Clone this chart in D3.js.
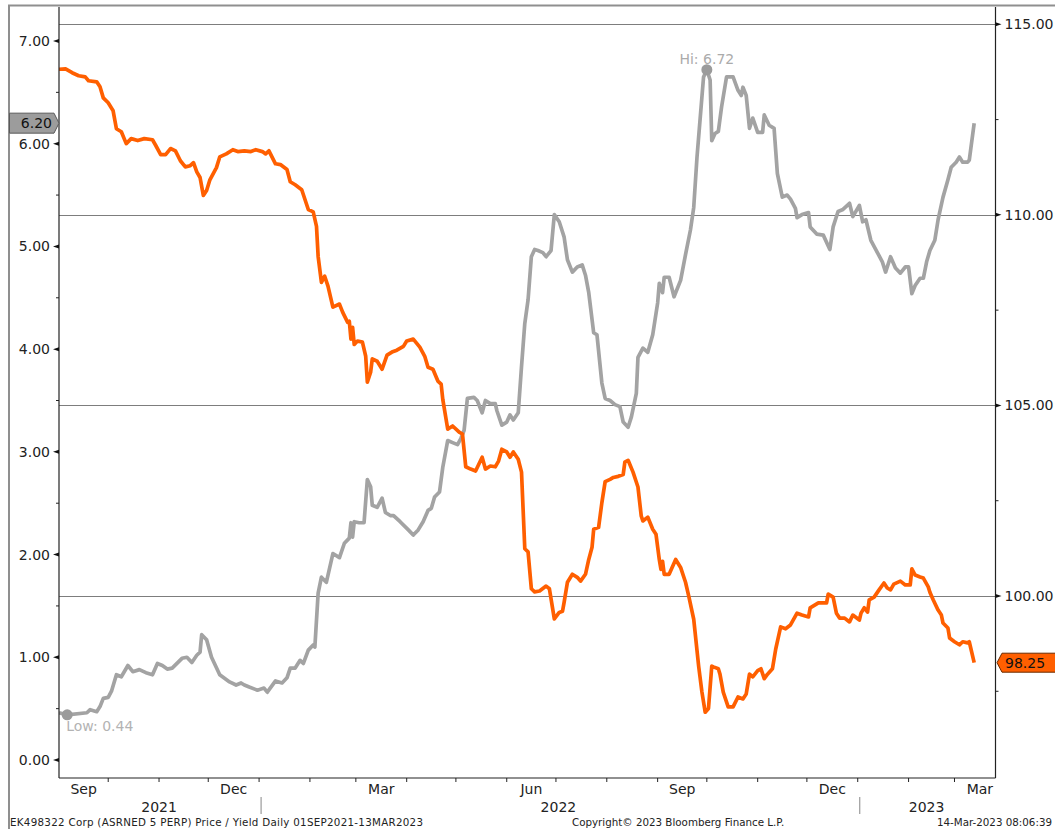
<!DOCTYPE html>
<html>
<head>
<meta charset="utf-8">
<script src="https://cdn.jsdelivr.net/npm/d3@7"></script>
<style>
  body { margin: 0; background: #fff; }
  text { font-family: "DejaVu Sans", Verdana, sans-serif; }
</style>
</head>
<body>
<svg id="chart" width="1055" height="829"></svg>
<script>
// Price (right axis, orange)
const priceData = [
  ["2021-09-01",113.82],["2021-09-05",113.83],["2021-09-09",113.73],["2021-09-13",113.65],["2021-09-17",113.62],
  ["2021-09-19",113.52],["2021-09-24",113.49],["2021-09-26",113.36],["2021-09-28",113.07],["2021-10-01",112.94],
  ["2021-10-04",112.73],["2021-10-06",112.26],["2021-10-09",112.18],["2021-10-12",111.87],["2021-10-15",112.00],
  ["2021-10-19",111.95],["2021-10-23",112.00],["2021-10-28",111.97],["2021-10-30",111.82],["2021-11-02",111.58],
  ["2021-11-05",111.58],["2021-11-08",111.74],["2021-11-11",111.68],["2021-11-14",111.42],["2021-11-17",111.26],
  ["2021-11-20",111.29],["2021-11-22",111.37],["2021-11-24",111.13],["2021-11-26",110.98],["2021-11-28",110.51],
  ["2021-11-30",110.64],["2021-12-02",110.92],["2021-12-06",111.24],["2021-12-08",111.52],["2021-12-12",111.60],
  ["2021-12-16",111.71],["2021-12-19",111.66],["2021-12-23",111.68],["2021-12-27",111.66],["2021-12-30",111.71],
  ["2022-01-03",111.66],["2022-01-05",111.60],["2022-01-07",111.68],["2022-01-11",111.34],["2022-01-14",111.32],
  ["2022-01-18",111.19],["2022-01-20",110.87],["2022-01-23",110.79],["2022-01-27",110.66],["2022-01-31",110.14],
  ["2022-02-03",110.08],["2022-02-05",109.70],["2022-02-06",108.91],["2022-02-08",108.23],["2022-02-10",108.39],
  ["2022-02-12",108.13],["2022-02-15",107.58],["2022-02-19",107.66],["2022-02-21",107.44],["2022-02-24",107.18],
  ["2022-02-25",107.21],["2022-02-26",106.74],["2022-02-27",107.05],["2022-02-28",106.60],["2022-03-02",106.69],
  ["2022-03-05",106.66],["2022-03-07",106.29],["2022-03-08",105.61],["2022-03-10",105.87],["2022-03-11",106.22],
  ["2022-03-14",106.16],["2022-03-17",105.95],["2022-03-20",106.32],["2022-03-23",106.40],["2022-03-26",106.45],
  ["2022-03-30",106.55],["2022-04-01",106.69],["2022-04-05",106.74],["2022-04-09",106.53],["2022-04-12",106.29],
  ["2022-04-14",106.00],["2022-04-17",105.95],["2022-04-20",105.64],["2022-04-22",105.56],["2022-04-23",105.16],
  ["2022-04-26",104.38],["2022-04-29",104.46],["2022-05-03",104.30],["2022-05-05",104.25],["2022-05-07",103.39],
  ["2022-05-10",103.33],["2022-05-13",103.28],["2022-05-17",103.64],["2022-05-19",103.33],["2022-05-22",103.41],
  ["2022-05-25",103.39],["2022-05-27",103.54],["2022-05-29",103.85],["2022-06-01",103.78],["2022-06-03",103.64],
  ["2022-06-05",103.78],["2022-06-08",103.59],["2022-06-10",103.25],["2022-06-12",101.24],["2022-06-14",101.16],
  ["2022-06-16",100.19],["2022-06-18",100.11],["2022-06-21",100.13],["2022-06-25",100.26],["2022-06-27",100.19],
  ["2022-06-30",99.40],["2022-07-03",99.57],["2022-07-05",99.60],["2022-07-06",99.84],["2022-07-08",100.36],
  ["2022-07-11",100.57],["2022-07-14",100.49],["2022-07-16",100.39],["2022-07-19",100.57],["2022-07-21",100.96],
  ["2022-07-23",101.28],["2022-07-24",101.75],["2022-07-27",101.80],["2022-07-29",102.45],["2022-07-31",103.00],
  ["2022-08-03",103.06],["2022-08-05",103.11],["2022-08-08",103.14],["2022-08-11",103.19],["2022-08-12",103.51],
  ["2022-08-14",103.56],["2022-08-17",103.25],["2022-08-20",102.86],["2022-08-22",102.10],["2022-08-23",101.97],
  ["2022-08-26",102.07],["2022-08-29",101.75],["2022-08-31",101.62],["2022-09-02",100.96],["2022-09-03",100.70],
  ["2022-09-04",100.91],["2022-09-05",100.57],["2022-09-08",100.57],["2022-09-12",100.96],["2022-09-15",100.75],
  ["2022-09-18",100.36],["2022-09-20",99.99],["2022-09-23",99.39],["2022-09-26",98.16],["2022-09-28",97.48],
  ["2022-09-30",96.95],["2022-10-02",97.05],["2022-10-04",98.16],["2022-10-05",98.14],["2022-10-08",98.09],
  ["2022-10-09",97.95],["2022-10-11",97.48],["2022-10-14",97.09],["2022-10-17",97.09],["2022-10-20",97.35],
  ["2022-10-23",97.30],["2022-10-25",97.43],["2022-10-27",97.95],["2022-10-29",97.88],["2022-11-01",98.04],
  ["2022-11-03",98.09],["2022-11-05",97.83],["2022-11-07",97.95],["2022-11-10",98.09],["2022-11-12",98.61],
  ["2022-11-15",99.19],["2022-11-18",99.14],["2022-11-21",99.24],["2022-11-25",99.55],["2022-11-28",99.50],
  ["2022-12-02",99.45],["2022-12-03",99.69],["2022-12-08",99.82],["2022-12-11",99.82],["2022-12-13",99.82],
  ["2022-12-14",100.05],["2022-12-17",99.97],["2022-12-19",99.55],["2022-12-21",99.42],["2022-12-24",99.42],
  ["2022-12-27",99.32],["2022-12-29",99.50],["2023-01-02",99.37],["2023-01-03",99.55],["2023-01-05",99.69],
  ["2023-01-07",99.58],["2023-01-08",99.90],["2023-01-11",99.97],["2023-01-14",100.16],["2023-01-17",100.34],
  ["2023-01-19",100.21],["2023-01-21",100.16],["2023-01-23",100.31],["2023-01-27",100.39],["2023-01-30",100.29],
  ["2023-02-02",100.29],["2023-02-03",100.71],["2023-02-05",100.55],["2023-02-08",100.50],["2023-02-10",100.47],
  ["2023-02-13",100.24],["2023-02-14",100.10],["2023-02-16",99.90],["2023-02-19",99.63],["2023-02-21",99.50],
  ["2023-02-22",99.29],["2023-02-25",99.16],["2023-02-26",98.90],["2023-03-01",98.80],["2023-03-04",98.72],
  ["2023-03-06",98.80],["2023-03-09",98.77],["2023-03-10",98.80],["2023-03-13",98.25]
];

// Yield (left axis, grey)
const yieldData = [
  ["2021-09-01",0.46],["2021-09-06",0.44],["2021-09-18",0.46],["2021-09-20",0.49],["2021-09-24",0.47],
  ["2021-09-26",0.52],["2021-09-28",0.60],["2021-10-01",0.61],["2021-10-03",0.67],["2021-10-06",0.83],
  ["2021-10-09",0.81],["2021-10-13",0.92],["2021-10-16",0.86],["2021-10-20",0.88],["2021-10-24",0.85],
  ["2021-10-28",0.83],["2021-10-31",0.94],["2021-11-03",0.92],["2021-11-06",0.885],["2021-11-09",0.895],
  ["2021-11-15",0.99],["2021-11-18",1.00],["2021-11-21",0.95],["2021-11-24",1.02],["2021-11-26",1.05],
  ["2021-11-27",1.22],["2021-11-30",1.17],["2021-12-03",1.00],["2021-12-08",0.83],["2021-12-14",0.76],
  ["2021-12-18",0.73],["2021-12-21",0.75],["2021-12-23",0.73],["2021-12-26",0.71],["2021-12-31",0.68],
  ["2022-01-04",0.70],["2022-01-06",0.66],["2022-01-11",0.77],["2022-01-15",0.75],["2022-01-18",0.80],
  ["2022-01-20",0.895],["2022-01-23",0.895],["2022-01-26",0.97],["2022-01-28",0.94],["2022-01-31",1.07],
  ["2022-02-03",1.12],["2022-02-04",1.10],["2022-02-06",1.625],["2022-02-08",1.78],["2022-02-11",1.73],
  ["2022-02-15",2.01],["2022-02-19",1.97],["2022-02-22",2.11],["2022-02-25",2.16],["2022-02-26",2.31],
  ["2022-02-27",2.17],["2022-02-28",2.32],["2022-03-03",2.31],["2022-03-06",2.31],["2022-03-08",2.73],
  ["2022-03-10",2.66],["2022-03-11",2.48],["2022-03-14",2.46],["2022-03-17",2.55],["2022-03-19",2.41],
  ["2022-03-22",2.38],["2022-03-24",2.38],["2022-03-28",2.32],["2022-04-02",2.24],["2022-04-05",2.19],
  ["2022-04-08",2.24],["2022-04-11",2.32],["2022-04-14",2.43],["2022-04-16",2.45],["2022-04-18",2.56],
  ["2022-04-21",2.61],["2022-04-23",2.85],["2022-04-26",3.11],["2022-04-29",3.09],["2022-05-02",3.07],
  ["2022-05-04",3.13],["2022-05-06",3.21],["2022-05-08",3.52],["2022-05-12",3.53],["2022-05-14",3.50],
  ["2022-05-17",3.38],["2022-05-19",3.50],["2022-05-22",3.47],["2022-05-25",3.47],["2022-05-26",3.40],
  ["2022-05-29",3.26],["2022-06-01",3.29],["2022-06-03",3.36],["2022-06-05",3.31],["2022-06-08",3.38],
  ["2022-06-10",3.83],["2022-06-12",4.25],["2022-06-14",4.48],["2022-06-16",4.90],["2022-06-18",4.97],
  ["2022-06-20",4.96],["2022-06-23",4.94],["2022-06-25",4.90],["2022-06-28",4.96],["2022-06-30",5.31],
  ["2022-07-03",5.24],["2022-07-06",5.09],["2022-07-08",4.87],["2022-07-11",4.75],["2022-07-14",4.80],
  ["2022-07-17",4.82],["2022-07-19",4.72],["2022-07-21",4.55],["2022-07-24",4.16],["2022-07-26",4.14],
  ["2022-07-29",3.67],["2022-07-31",3.52],["2022-08-03",3.50],["2022-08-06",3.46],["2022-08-09",3.44],
  ["2022-08-11",3.29],["2022-08-14",3.24],["2022-08-16",3.34],["2022-08-19",3.57],["2022-08-20",3.92],
  ["2022-08-23",4.01],["2022-08-26",3.97],["2022-08-29",4.14],["2022-09-01",4.45],["2022-09-02",4.64],
  ["2022-09-04",4.55],["2022-09-05",4.70],["2022-09-08",4.70],["2022-09-11",4.51],["2022-09-15",4.67],
  ["2022-09-18",4.92],["2022-09-21",5.16],["2022-09-23",5.38],["2022-09-25",5.87],["2022-09-27",6.26],
  ["2022-09-29",6.65],["2022-10-01",6.72],["2022-10-03",6.62],["2022-10-04",6.03],["2022-10-06",6.10],
  ["2022-10-08",6.12],["2022-10-10",6.36],["2022-10-13",6.65],["2022-10-17",6.65],["2022-10-20",6.52],
  ["2022-10-22",6.47],["2022-10-23",6.55],["2022-10-25",6.47],["2022-10-27",6.15],["2022-10-29",6.25],
  ["2022-11-01",6.11],["2022-11-04",6.11],["2022-11-05",6.28],["2022-11-08",6.18],["2022-11-11",6.15],
  ["2022-11-13",5.71],["2022-11-16",5.48],["2022-11-19",5.50],["2022-11-21",5.46],["2022-11-24",5.37],
  ["2022-11-25",5.28],["2022-11-28",5.31],["2022-12-02",5.33],["2022-12-03",5.19],["2022-12-07",5.12],
  ["2022-12-11",5.11],["2022-12-15",4.97],["2022-12-17",5.19],["2022-12-20",5.34],["2022-12-23",5.36],
  ["2022-12-27",5.42],["2022-12-29",5.29],["2023-01-02",5.40],["2023-01-04",5.24],["2023-01-06",5.26],
  ["2023-01-09",5.06],["2023-01-13",4.94],["2023-01-16",4.85],["2023-01-18",4.75],["2023-01-21",4.90],
  ["2023-01-24",4.79],["2023-01-27",4.74],["2023-01-30",4.80],["2023-02-01",4.80],["2023-02-03",4.54],
  ["2023-02-05",4.62],["2023-02-08",4.69],["2023-02-10",4.69],["2023-02-12",4.85],["2023-02-14",4.96],
  ["2023-02-17",5.06],["2023-02-19",5.26],["2023-02-22",5.48],["2023-02-25",5.65],["2023-02-27",5.77],
  ["2023-03-02",5.82],["2023-03-04",5.87],["2023-03-06",5.82],["2023-03-09",5.82],["2023-03-10",5.84],
  ["2023-03-13",6.20]
];

const yieldTicks = [0, 1, 2, 3, 4, 5, 6, 7];
const priceTicks = [100, 105, 110, 115];
const quarterMonths = ["2021-09-01", "2021-12-01", "2022-03-01", "2022-06-01", "2022-09-01", "2022-12-01", "2023-03-01"];
const quarterLabels = ["Sep", "Dec", "Mar", "Jun", "Sep", "Dec", "Mar"];
const yearLabels = ["2021", "2022", "2023"];
const hiPoint = ["2022-10-01", 6.72];
const lowPoint = ["2021-09-06", 0.44];
const lastYield = 6.20;
const lastPrice = 98.25;
const footerLeft = "EK498322 Corp (ASRNED 5 PERP) Price / Yield  Daily 01SEP2021-13MAR2023";
const footerMid = "Copyright\u00a9 2023 Bloomberg Finance L.P.";
const footerRight = "14-Mar-2023 08:06:39";

const parse = d3.timeParse("%Y-%m-%d");
const fmt = d3.format(".2f");

const orange = "#ff5f00";
const grey = "#a3a3a3";

const plot = { left: 59, right: 995.5, top: 7, bottom: 778 };

const svg = d3.select("#chart");

// ---- Scales ----
const x = d3.scaleTime()
  .domain([parse("2021-09-01"), parse("2023-03-26")])
  .range([plot.left, plot.right]);

// left axis: yield, 0 at 760 and 7 at 41 -> extended to the plot frame
const yL0 = d3.scaleLinear([0, 7], [760, 41]);
const yL = d3.scaleLinear([yL0.invert(plot.bottom), yL0.invert(plot.top)], [plot.bottom, plot.top]);

// right axis: price, 100 at 596 and 115 at 24.3
const yR0 = d3.scaleLinear([100, 115], [596, 24.3]);
const yR = d3.scaleLinear([yR0.invert(plot.bottom), yR0.invert(plot.top)], [plot.bottom, plot.top]);

// ---- Outer frame ----
svg.append("path")
  .attr("d", `M9,829 V5.5 H1055`)
  .attr("fill", "none")
  .attr("stroke", "#8f8f8f")
  .attr("stroke-width", 2);

// ---- Grid (price majors) ----
svg.append("g").selectAll("line")
  .data(priceTicks)
  .join("line")
  .attr("x1", plot.left).attr("x2", plot.right)
  .attr("y1", d => Math.round(yR(d)) + 0.5).attr("y2", d => Math.round(yR(d)) + 0.5)
  .attr("stroke", "#7d7d7d")
  .attr("stroke-width", 1);

// ---- Lines ----
svg.append("clipPath").attr("id", "clip")
  .append("rect")
  .attr("x", plot.left).attr("y", plot.top)
  .attr("width", plot.right - plot.left).attr("height", plot.bottom - plot.top);

const lineY = d3.line().x(d => x(parse(d[0]))).y(d => yL(d[1]));
const lineP = d3.line().x(d => x(parse(d[0]))).y(d => yR(d[1]));

const lines = svg.append("g").attr("clip-path", "url(#clip)");

lines.append("path")
  .attr("d", lineY(yieldData))
  .attr("fill", "none")
  .attr("stroke", grey)
  .attr("stroke-width", 3.7)
  .attr("stroke-linejoin", "round");

lines.append("path")
  .attr("d", lineP(priceData))
  .attr("fill", "none")
  .attr("stroke", orange)
  .attr("stroke-width", 3.7)
  .attr("stroke-linejoin", "round");

// ---- Hi / Low markers ----
const markers = svg.append("g");
markers.append("circle")
  .attr("cx", x(parse(hiPoint[0]))).attr("cy", yL(hiPoint[1]))
  .attr("r", 5.5).attr("fill", "#9b9b9b");
markers.append("text")
  .attr("x", x(parse(hiPoint[0])))
  .attr("y", yL(hiPoint[1]) - 6)
  .attr("text-anchor", "middle")
  .attr("font-size", 14)
  .attr("fill", "#ababab")
  .text("Hi: " + fmt(hiPoint[1]));

markers.append("circle")
  .attr("cx", x(parse(lowPoint[0]))).attr("cy", yL(lowPoint[1]))
  .attr("r", 5.5).attr("fill", "#9b9b9b");
markers.append("text")
  .attr("x", x(parse(lowPoint[0])) - 1)
  .attr("y", yL(lowPoint[1]) + 16)
  .attr("font-size", 14)
  .attr("fill", "#b3b3b3")
  .text("Low: " + fmt(lowPoint[1]));

// ---- Axes frame ----
const axes = svg.append("g").attr("stroke", "#222").attr("stroke-width", 1.2);
axes.append("line").attr("x1", plot.left).attr("x2", plot.left).attr("y1", plot.top).attr("y2", plot.bottom);
axes.append("line").attr("x1", plot.right).attr("x2", plot.right).attr("y1", plot.top).attr("y2", plot.bottom);
axes.append("line").attr("x1", plot.left).attr("x2", plot.right).attr("y1", plot.bottom).attr("y2", plot.bottom);

// left axis ticks + labels
const leftG = svg.append("g");
leftG.selectAll("path.major")
  .data(yieldTicks)
  .join("path")
  .attr("class", "major")
  .attr("d", d => `M${plot.left},${yL(d) - 2} L${plot.left - 6},${yL(d)} L${plot.left},${yL(d) + 2} Z`)
  .attr("fill", "#111");
leftG.selectAll("line.minor")
  .data(yieldTicks.slice(0, -1).map(d => d + 0.5))
  .join("line")
  .attr("class", "minor")
  .attr("x1", plot.left - 3).attr("x2", plot.left)
  .attr("y1", d => yL(d)).attr("y2", d => yL(d))
  .attr("stroke", "#222");
leftG.selectAll("text")
  .data(yieldTicks)
  .join("text")
  .attr("x", plot.left - 9)
  .attr("y", d => yL(d))
  .attr("dy", "0.36em")
  .attr("text-anchor", "end")
  .attr("font-size", 14)
  .attr("fill", "#222")
  .text(d => fmt(d));

// right axis ticks + labels
const rightG = svg.append("g");
rightG.selectAll("path.major")
  .data(priceTicks)
  .join("path")
  .attr("class", "major")
  .attr("d", d => `M${plot.right},${yR(d) - 2} L${plot.right + 6},${yR(d)} L${plot.right},${yR(d) + 2} Z`)
  .attr("fill", "#111");
rightG.selectAll("line.minor")
  .data([97.5, 102.5, 107.5, 112.5])
  .join("line")
  .attr("class", "minor")
  .attr("x1", plot.right).attr("x2", plot.right + 3)
  .attr("y1", d => yR(d)).attr("y2", d => yR(d))
  .attr("stroke", "#222");
rightG.selectAll("text")
  .data(priceTicks)
  .join("text")
  .attr("x", plot.right + 9)
  .attr("y", d => yR(d))
  .attr("dy", "0.36em")
  .attr("font-size", 14)
  .attr("fill", "#222")
  .text(d => fmt(d));

// bottom axis: month ticks, quarter labels, years
const bottomG = svg.append("g");
const monthTicks = x.ticks(d3.timeMonth.every(1)).filter(d => x(d) > plot.left + 1);
bottomG.selectAll("line.tick")
  .data(monthTicks)
  .join("line")
  .attr("class", "tick")
  .attr("x1", d => x(d)).attr("x2", d => x(d))
  .attr("y1", plot.bottom).attr("y2", plot.bottom + 4)
  .attr("stroke", "#222");

bottomG.selectAll("text.month")
  .data(quarterMonths)
  .join("text")
  .attr("class", "month")
  .attr("x", d => {
    const a = parse(d);
    const b = d3.timeMonth.offset(a, 1);
    return (x(a) + x(b)) / 2;
  })
  .attr("y", 794)
  .attr("text-anchor", "middle")
  .attr("font-size", 14)
  .attr("fill", "#222")
  .text((d, i) => quarterLabels[i]);

const [d0, d1] = x.domain();
bottomG.selectAll("text.year")
  .data(yearLabels)
  .join("text")
  .attr("class", "year")
  .attr("x", d => {
    const a = new Date(Math.max(d0, new Date(+d, 0, 1)));
    const b = new Date(Math.min(d1, new Date(+d + 1, 0, 1)));
    return (x(a) + x(b)) / 2;
  })
  .attr("y", 812)
  .attr("text-anchor", "middle")
  .attr("font-size", 14)
  .attr("fill", "#222")
  .text(d => d);

bottomG.selectAll("line.year")
  .data(yearLabels.slice(1))
  .join("line")
  .attr("class", "year")
  .attr("x1", d => x(new Date(+d, 0, 1)) + 2).attr("x2", d => x(new Date(+d, 0, 1)) + 2)
  .attr("y1", 797).attr("y2", 814)
  .attr("stroke", "#9a9a9a")
  .attr("stroke-width", 1.2);

// ---- Last value tags ----
const ty = yL(lastYield);
svg.append("path")
  .attr("d", `M9.5,${ty - 10} H54 L59,${ty} L54,${ty + 10} H9.5 Z`)
  .attr("fill", "#9c9c9c")
  .attr("stroke", "#5a5a5a")
  .attr("stroke-width", 1);
svg.append("text")
  .attr("x", 52).attr("y", ty).attr("dy", "0.36em")
  .attr("text-anchor", "end")
  .attr("font-size", 14)
  .attr("fill", "#111")
  .text(fmt(lastYield));

const py = yR(lastPrice);
svg.append("path")
  .attr("d", `M997,${py} L1002,${py - 9.5} H1056 V${py + 9.5} H1002 Z`)
  .attr("fill", orange)
  .attr("stroke", "#6a2a00")
  .attr("stroke-width", 1);
svg.append("text")
  .attr("x", 1005).attr("y", py).attr("dy", "0.36em")
  .attr("font-size", 14)
  .attr("fill", "#111")
  .text(fmt(lastPrice));

// ---- Footer ----
const footer = svg.append("g").attr("font-size", 10.3).attr("fill", "#222").style("white-space", "pre");
footer.append("text").attr("x", 10).attr("y", 826)
  .attr("textLength", 413).attr("lengthAdjust", "spacing")
  .text(footerLeft);
footer.append("text").attr("x", 572).attr("y", 826).text(footerMid);
footer.append("text").attr("x", 1052).attr("y", 826).attr("text-anchor", "end").text(footerRight);
</script>
</body>
</html>
